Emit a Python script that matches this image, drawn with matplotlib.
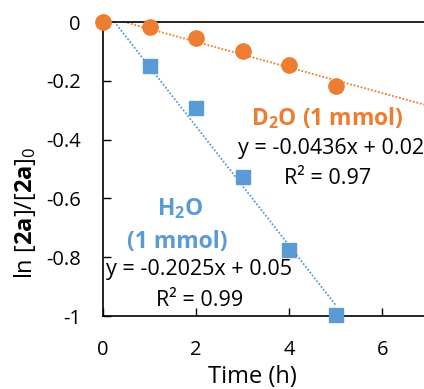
import numpy as np
import matplotlib
matplotlib.use("Agg")
import matplotlib.pyplot as plt

plt.rcParams['font.family'] = ['Open Sans', 'DejaVu Sans']
plt.rcParams['mathtext.fontset'] = 'custom'
plt.rcParams['mathtext.rm'] = 'Open Sans'
plt.rcParams['mathtext.it'] = 'Open Sans:italic'
plt.rcParams['mathtext.bf'] = 'Open Sans:bold'

# data
tempo = [0, 1, 2, 3, 4, 5]
d2o = [0.0, -0.017, -0.054, -0.10, -0.146, -0.218]
h2o = [0.0, -0.15, -0.293, -0.527, -0.776, -0.997]

# trend lines (coefficients from the labels)
d2o_fit = (-0.0436, 0.02)
h2o_fit = (-0.2025, 0.05)

laranja = '#ED7D31'
azul = '#5B9BD5'

fig = plt.figure(figsize=(4.24, 3.89), dpi=100)
ax = fig.add_axes([103 / 424, 1 - 316 / 389, 1 - 103 / 424, (316 - 22) / 389])

xs = np.array([0, 7.0])
ax.plot(xs, d2o_fit[0] * xs + d2o_fit[1], linestyle=(0, (1, 1)), color=laranja, lw=1.3)
xs2 = np.array([0, 5.0])
ax.plot(xs2, h2o_fit[0] * xs2 + h2o_fit[1], linestyle=(0, (1, 1)), color=azul, lw=1.3)

# o ponto (0,0) do H2O fica escondido atrás do círculo laranja
ax.plot(tempo[1:], h2o[1:], 's', color=azul, markersize=9.5, clip_on=False, zorder=3)
ax.plot(tempo, d2o, 'o', color=laranja, markersize=11, clip_on=False, zorder=4)

ax.set_xlim(0, 6.9)
ax.set_ylim(-1, 0)
ax.set_xticks([0, 2, 4, 6])
ax.set_yticks([0, -0.2, -0.4, -0.6, -0.8, -1])
ax.set_yticklabels(['0', '-0.2', '-0.4', '-0.6', '-0.8', '-1'])
ax.tick_params(direction='in', length=6, width=1, labelsize=14.5, pad=16)
ax.tick_params(axis='x', pad=17)
for s in ['left', 'bottom', 'top']:
    ax.spines[s].set_linewidth(1.2)
ax.spines['right'].set_visible(False)

def px(x, y):
    return fig.transFigure.inverted().transform((x, 389 - y))

kw = dict(transform=fig.transFigure, ha='center', va='center')
# axis titles
fig.text(*px(252, 377), 'Time (h)', fontsize=17, **kw)
fig.text(*px(25, 213), r'ln [$\mathbf{2a}$]/[$\mathbf{2a}$]$_0$', fontsize=17, rotation=90, **kw)

fig.text(*px(327, 118), r'D$_\mathbf{2}$O (1 mmol)', color=laranja, fontsize=16.5, fontweight='bold', **kw)
fig.text(*px(331, 148), 'y = -0.0436x + 0.02', fontsize=15.5, **kw)
fig.text(*px(328, 178), 'R² = 0.97', fontsize=15.5, **kw)
fig.text(*px(180, 209), r'H$_\mathbf{2}$O', color=azul, fontsize=16.5, fontweight='bold', **kw)
fig.text(*px(177, 242), '(1 mmol)', color=azul, fontsize=16.5, fontweight='bold', **kw)
fig.text(*px(199, 270), 'y = -0.2025x + 0.05', fontsize=15.5, **kw)
fig.text(*px(200, 300), 'R² = 0.99', fontsize=15.5, **kw)

fig.savefig('out.png', dpi=100)
